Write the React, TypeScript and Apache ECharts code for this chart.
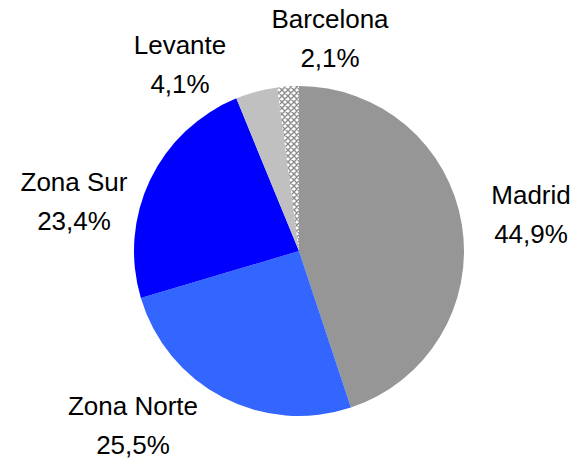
import React, { useEffect, useRef } from "react";
import * as echarts from "echarts";

const categories = ["Madrid", "Zona Norte", "Zona Sur", "Levante", "Barcelona"];
const percents = [44.9, 25.5, 23.4, 4.1, 2.1];
const percentLabels = ["44,9%", "25,5%", "23,4%", "4,1%", "2,1%"];

// label centres (px) for each slice, Excel-style "best fit"
const labelCentres: [number, number][] = [
  [531, 214],
  [133, 425],
  [74, 201],
  [180, 64],
  [330, 38],
];

const hatch =
  "data:image/svg+xml;utf8," +
  encodeURIComponent(
    "<svg xmlns='http://www.w3.org/2000/svg' width='6' height='6'><rect width='6' height='6' fill='#ffffff'/><path d='M0 0L6 6M6 0L0 6M-1 5L1 7M5 -1L7 1M5 7L7 5M-1 1L1 -1' stroke='#8c8c8c' stroke-width='1.4'/></svg>"
  );

const sliceColors: any[] = [
  "#969696",
  "#3366FF",
  "#0000FF",
  "#C0C0C0",
  { image: hatch, repeat: "repeat" },
];

export default function App() {
  const ref = useRef<HTMLDivElement>(null);
  useEffect(() => {
    if (!ref.current) return;
    const chart = echarts.init(ref.current, undefined, { renderer: "svg" });
    chart.setOption({
      animation: false,
      backgroundColor: "#ffffff",
      series: [
        {
          type: "pie",
          center: [299, 251],
          radius: 165,
          startAngle: 90,
          clockwise: true,
          data: categories.map((c, i) => ({
            name: c,
            value: percents[i],
            itemStyle: { color: sliceColors[i] },
          })),
          itemStyle: { borderWidth: 0 },
          label: {
            show: true,
            position: "outside",
            formatter: (p: any) => `${p.name}\n${percentLabels[p.dataIndex]}`,
            fontFamily: "'Liberation Sans', Arial, sans-serif",
            fontSize: 26,
            lineHeight: 39,
            color: "#000000",
            align: "center",
            overflow: "none",
          },
          labelLine: { show: false },
          labelLayout: (p: any) => ({
            x: labelCentres[p.dataIndex][0],
            y: labelCentres[p.dataIndex][1],
            width: 200,
            align: "center",
            verticalAlign: "middle",
          }),
          emphasis: { disabled: true },
        },
      ],
    });
    return () => chart.dispose();
  }, []);
  return (
    <div
      ref={ref}
      style={{ position: "absolute", left: 0, top: 0, width: 577, height: 461 }}
    />
  );
}
